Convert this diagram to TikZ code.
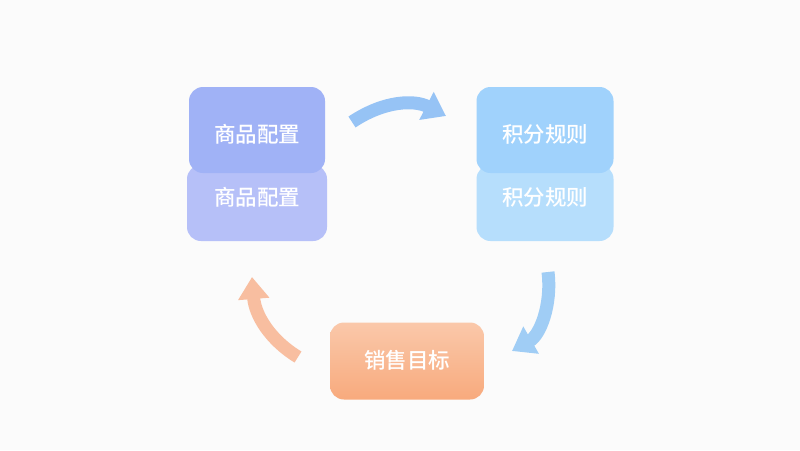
\documentclass[tikz,border=0pt]{standalone}
\usepackage{fontspec}
\newfontfamily\cjk{Noto Sans CJK SC Medium}
\usetikzlibrary{arrows.meta}
\begin{document}
\begin{tikzpicture}[x=1pt,y=-1pt,
 box/.style={rounded corners=14pt,inner sep=0pt},
 lbl/.style={text=white,font=\cjk\fontsize{21.5}{21.5}\selectfont,inner sep=0pt},
 arr/.style={line width=13pt,-{Triangle[width=30pt,length=22pt]}}]
\fill[white!97!gray] (0,0) rectangle (800,450);
\useasboundingbox (0,0) rectangle (800,450);
\node[box,minimum width=140pt,minimum height=76pt,fill={rgb,255:red,182;green,192;blue,248}] (lb) at (257,203) {};
\node[lbl] (lbt) at (257,197) {商品配置};
\node[box,minimum width=136pt,minimum height=86pt,fill={rgb,255:red,160;green,178;blue,246}] (lt) at (257,130) {};
\node[lbl] (ltt) at (257,134) {商品配置};
\node[box,minimum width=137pt,minimum height=76pt,fill={rgb,255:red,182;green,222;blue,252}] (rb) at (545,203) {};
\node[lbl] (rbt) at (545,197) {积分规则};
\node[box,minimum width=137pt,minimum height=86pt,fill={rgb,255:red,160;green,210;blue,252}] (rt) at (545,130) {};
\node[lbl] (rtt) at (545,134) {积分规则};
\node[box,minimum width=154pt,minimum height=77pt,top color={rgb,255:red,250;green,200;blue,170},bottom color={rgb,255:red,248;green,170;blue,125}] (bm) at (407,361) {};
\node[lbl] (bmt) at (407,360) {销售目标};
\coordinate (a1) at (352,122); \coordinate (a2) at (446,116);
\coordinate (b1) at (548,272); \coordinate (b2) at (512,351);
\coordinate (c1) at (298,357); \coordinate (c2) at (252,277);
\draw[arr,color={rgb,255:red,150;green,195;blue,245}] (a1) .. controls (385,100) and (415,100) .. (a2);
\draw[arr,color={rgb,255:red,160;green,205;blue,245}] (b1) .. controls (552,305) and (540,335) .. (b2);
\draw[arr,color={rgb,255:red,248;green,190;blue,160}] (c1) .. controls (270,340) and (255,315) .. (c2);
\end{tikzpicture}
\end{document}
